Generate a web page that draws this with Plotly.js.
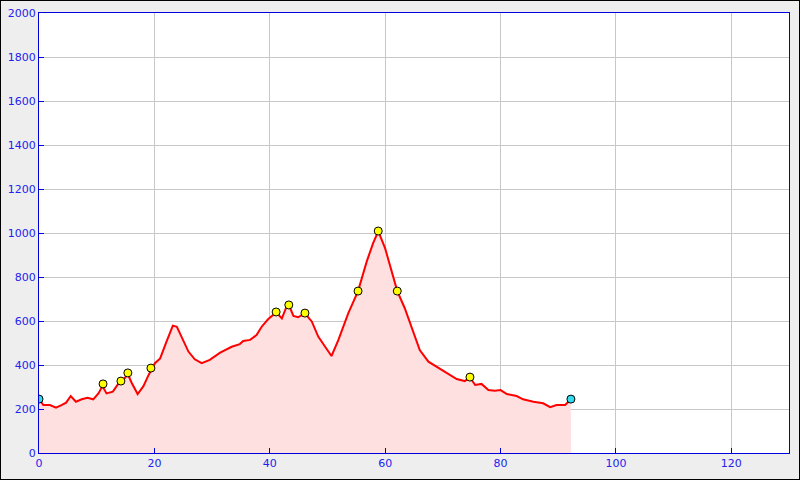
<!DOCTYPE html>
<html><head><meta charset="utf-8">
<script src="https://cdn.plot.ly/plotly-3.0.1.min.js"></script>
<style>
html,body{margin:0;padding:0;background:#eeeeee;}
#frame{position:absolute;left:0;top:0;width:800px;height:480px;box-sizing:border-box;border:1px solid #000;}
#chart{width:798px;height:478px;}
</style></head>
<body><div id="frame"><div id="chart"></div></div>
<script>
const dist = [0,0.75,1.9,2.95,3.9,4.7,5.5,6.4,7.4,8.4,9.4,10.3,11.0,11.7,12.8,13.6,14.6,15.4,16.1,17.1,18.1,19.0,20.1,21.0,22.1,23.2,23.9,24.9,25.9,27.0,28.2,29.6,31.4,33.4,34.8,35.4,36.6,37.7,38.6,39.7,41.1,42.1,42.8,43.3,44.1,44.9,46.1,47.3,48.4,49.6,50.7,51.9,53.6,55.3,56.8,57.9,58.8,60.0,61.1,62.1,63.4,64.9,66.0,67.5,68.9,70.7,72.4,73.8,74.7,75.6,76.7,77.9,79.0,80.0,81.1,82.8,83.9,85.7,87.4,88.6,89.7,91.2,92.2];
const elev = [245,218,218,206,218,229,259,233,244,251,244,271,304,271,279,309,332,358,317,268,304,355,408,430,506,579,574,521,461,426,408,423,456,483,495,509,514,536,574,608,639,612,658,673,623,617,635,597,529,483,441,514,635,736,870,953,1008,930,824,736,658,544,468,415,392,365,336,327,344,309,314,286,283,286,268,259,244,233,226,208,218,218,244];
const wpDist = [11.1,14.2,15.4,19.4,41.1,43.3,46.1,55.3,58.8,62.1,74.7];
const wpElev = [314,327,364,386,641,673,636,736,1009,736,345];
const endDist = [0,92.2];
const endElev = [245,245];

const blue = '#0000dd';
const traces = [
  {x: dist, y: elev, type:'scatter', mode:'lines', fill:'tozeroy', fillcolor:'#ffe0e0',
   line:{color:'#ff0000', width:2}, hoverinfo:'skip'},
  {x: wpDist, y: wpElev, type:'scatter', mode:'markers',
   marker:{color:'#ffff00', size:8, line:{color:'#000', width:1}}},
  {x: endDist, y: endElev, type:'scatter', mode:'markers',
   marker:{color:'#33ddee', size:8, line:{color:'#000', width:1}}}
];
const axisCommon = {showline:true, mirror:true, linecolor:blue, linewidth:1,
  ticks:'inside', ticklen:5, tickcolor:blue, showgrid:true, gridcolor:'#c8c8c8',
  zeroline:false, tickfont:{family:'DejaVu Sans', size:11, color:'#2222ee'}};
const layout = {
  width:798, height:478, showlegend:false,
  paper_bgcolor:'#eeeeee', plot_bgcolor:'#ffffff',
  margin:{l:38, r:10, t:12, b:26},
  xaxis: Object.assign({range:[0,130], dtick:20, tick0:0}, axisCommon),
  yaxis: Object.assign({range:[0,2000], dtick:200, tick0:0}, axisCommon)
};
Plotly.newPlot('chart', traces, layout, {staticPlot:true});
</script></body></html>
